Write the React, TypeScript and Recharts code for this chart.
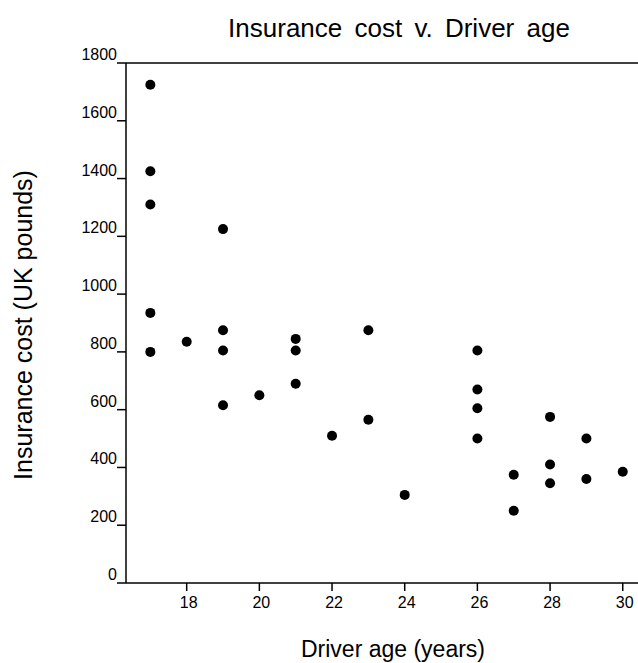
import { ReferenceLine, Scatter, ScatterChart, XAxis, YAxis } from 'recharts';

// Driver age (years) and annual insurance cost (UK pounds), one entry per driver
const ages = [17, 17, 17, 17, 17, 18, 19, 19, 19, 19, 20, 21, 21, 21, 22, 23, 23, 24, 26, 26, 26, 26, 27, 27, 28, 28, 28, 29, 29, 30];
const costs = [1725, 1425, 1310, 935, 800, 835, 1225, 875, 805, 615, 650, 845, 805, 690, 510, 875, 565, 305, 805, 670, 605, 500, 375, 250, 575, 410, 345, 500, 360, 385];

const ageTicks = [18, 20, 22, 24, 26, 28, 30];
const costTicks = [0, 200, 400, 600, 800, 1000, 1200, 1400, 1600, 1800];

const points = ages.map((age, i) => ({ age, cost: costs[i] }));

const FONT = '"Liberation Sans", Arial, sans-serif';

function CostTick(props: any) {
  const { x, y, payload } = props;
  return (
    <text x={x} y={y - 3} textAnchor="end" fontSize={16} fontFamily={FONT} fill="#000">
      {payload.value}
    </text>
  );
}

function AgeTick(props: any) {
  const { x, y, payload } = props;
  return (
    <text x={x + 2} y={y + 17} textAnchor="middle" fontSize={16} fontFamily={FONT} fill="#000">
      {payload.value}
    </text>
  );
}

const dot = (props: any) => <circle cx={props.cx} cy={props.cy} r={5} fill="#000" />;

export default function App() {
  return (
    <div style={{ position: 'absolute', left: 0, top: 0, width: 638, height: 663, background: '#fff' }}>
      <ScatterChart width={638} height={663} margin={{ top: 63, right: 0, bottom: 0, left: 0 }}>
        <text x={399} y={37} textAnchor="middle" fontSize={26} fontFamily={FONT} wordSpacing={5} fill="#000">
          Insurance cost v. Driver age
        </text>
        <text x={393} y={657} textAnchor="middle" fontSize={23} fontFamily={FONT} fill="#000">
          Driver age (years)
        </text>
        <text
          x={32}
          y={325}
          transform="rotate(-90 32 325)"
          textAnchor="middle"
          fontSize={25}
          fontFamily={FONT}
          fill="#000"
        >
          Insurance cost (UK pounds)
        </text>
        <XAxis
          type="number"
          dataKey="age"
          domain={[16.33, 30.42]}
          allowDataOverflow
          ticks={ageTicks}
          tick={AgeTick}
          tickSize={8}
          tickMargin={0}
          height={80}
          axisLine={{ stroke: '#000', strokeWidth: 1.5 }}
          tickLine={{ stroke: '#000', strokeWidth: 1.5 }}
        />
        <YAxis
          type="number"
          dataKey="cost"
          domain={[0, 1800]}
          allowDataOverflow
          ticks={costTicks}
          tick={CostTick}
          tickSize={9}
          tickMargin={0}
          width={126}
          axisLine={{ stroke: '#000', strokeWidth: 1.5 }}
          tickLine={{ stroke: '#000', strokeWidth: 1.5 }}
        />
        <ReferenceLine y={1800} stroke="#000" strokeWidth={1.5} />
        <Scatter data={points} shape={dot} isAnimationActive={false} />
      </ScatterChart>
    </div>
  );
}
